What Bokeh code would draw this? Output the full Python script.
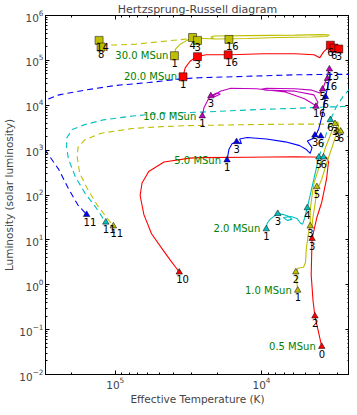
from bokeh.plotting import figure
from bokeh.models import Range1d, FixedTicker, LogAxis, CustomJSTickFormatter
from bokeh.core.properties import value
from bokeh.embed import file_html
from bokeh.resources import INLINE

# ---------------- data (T in K, L in solar luminosities) ----------------
masses = ["0.5 MSun", "1.0 MSun", "2.0 MSun", "5.0 MSun", "10.0 MSun", "20.0 MSun", "30.0 MSun"]
colors = ["#ff0000", "#bfbf00", "#00bfbf", "#0000ff", "#bf00bf", "#ff0000", "#bfbf00"]
marker_kind = ["triangle", "triangle", "triangle", "triangle", "triangle", "square", "square"]

m05_T = [3870, 4310, 4440, 4570, 4510, 4180, 3870, 3590, 3480, 3590, 5900, 12500, 26600, 30900,
         46400, 59000, 65600, 67600, 63700, 56500, 47100, 41800, 36500]
m05_L = [0.042, 0.20, 0.44, 1.66, 10.7, 31.5, 69, 225, 545, 696, 713, 696, 679, 662,
         545, 333, 185, 97.5, 36.5, 13.7, 5.93, 3.46, 1.92]
m05_dT, m05_dL = [], []
m05_mT = [3870, 4310, 4510, 36500]
m05_mL = [0.042, 0.20, 10.7, 1.9]
m05_mk = ["0", "2", "3", "10"]

m10_T = [5650, 5730, 5820, 5650, 5160, 5000, 4930, 4780, 4640, 4640, 4510, 4370, 3990, 3650,
         3380, 3190, 3000, 2960, 3140, 3330, 3650, 3870, 4180, 4310, 4440, 4510]
m10_L = [0.75, 1.17, 1.83, 2.33, 2.45, 3.13, 6.55, 13.7, 20.3, 46.7, 97.5, 185, 470, 1140,
         2150, 3700, 4290, 3040, 1860, 1030, 426, 225, 125, 59.7, 33.1, 20.3]
m10_dT = [3190, 3590, 5900, 12500, 30900, 46400, 76200, 125000, 162000, 180000, 182000,
          175000, 155000, 133000, 116000, 108000, 103000]
m10_dL = [3700, 3790, 3790, 3700, 3520, 3350, 3040, 2380, 1690, 1140, 696, 302, 138, 59.7,
          33.1, 24.7, 20.3]
m10_mT = [5650, 5820, 4640, 4180, 3140, 3050, 2870, 103000]
m10_mL = [0.75, 1.92, 20.3, 152, 3880, 2750, 2620, 20.3]
m10_mk = ["1", "2", "3", "5", "3", "3", "6", "11"]

m20_T = [9270, 9140, 8740, 8090, 7740, 7080, 6460, 6180, 6670, 7080, 6270, 5730, 5400, 5230,
         5080, 4930, 4860, 4570, 4310, 4050]
m20_L = [17.5, 23.5, 28.6, 34.8, 38.4, 36.6, 33.1, 28.6, 27.2, 31.5, 33.1, 30.0, 23.5, 22.4,
         30.0, 44.5, 51.5, 125, 288, 696]
m20_dT = [4050, 3760, 3380, 3090, 2780, 2470, 2320, 2580, 3590, 5900, 9710, 16200, 26600,
          46400, 76200, 120000, 162000, 197000, 215000, 215000, 209000, 188000, 162000,
          135000, 120000, 116000]
m20_dL = [696, 1450, 4730, 8960, 15400, 23900, 13300, 9400, 9180, 8530, 8120, 7540, 7000,
          6670, 5750, 4730, 3700, 2890, 1860, 1140, 631, 261, 113, 51.5, 28.6, 24.7]
m20_mT = [9270, 7740, 4860, 4050, 3760, 3380, 116000]
m20_mL = [17.5, 38.4, 51.5, 696, 696, 4730, 24.7]
m20_mk = ["1", "3", "4", "5", "6", "6", "11"]

m50_T = [17200, 16700, 15900, 14800, 13700, 14100, 12500, 9270, 6870, 5480, 4930, 4640, 4510,
         4860, 4510, 4240, 4050, 3820, 3650, 3480, 3380]
m50_L = [601, 1030, 1380, 1530, 1380, 1770, 1910, 1770, 1530, 1260, 1030, 847, 1140,
         1600, 1770, 2150, 3040, 6350, 15400, 30600, 48800]
m50_dT = [2390, 3380, 5900, 12500, 26600, 34400, 59000, 98500, 162000, 243000, 296000,
          354000, 387000, 365000, 300000, 243000, 209000, 180000, 157000]
m50_dL = [48800, 48800, 47600, 44200, 41000, 39100, 32100, 27700, 21700, 17000, 13300,
          8120, 3880, 1690, 982, 367, 138, 59.7, 36.6]
m50_mT = [17200, 14800, 4310, 3930, 3650, 157000]
m50_mL = [601, 1530, 2150, 2050, 15400, 36.6]
m50_mk = ["1", "3", "3", "6", "6", "11"]

m100_T = [25400, 24700, 23200, 22200, 20300, 19100, 20900, 21500, 19100, 16200, 10800, 6870,
          5080, 4370, 4240, 4110, 4370, 5900, 9270, 10000, 9270, 5900, 4510, 3990, 3820,
          3590, 3430]
m100_L = [5750, 8960, 13300, 16100, 18700, 17800, 15400, 16100, 20600, 23900, 23400, 19700,
          13900, 10400, 9400, 11500, 17000, 20600, 21700, 22800, 23900, 23400, 21700, 18700,
          22800, 39100, 67100]
m100_dT, m100_dL = [], []
m100_mT = [25400, 22200, 4240, 3820, 3540, 3430]
m100_mL = [5750, 16100, 9400, 22800, 39100, 63800]
m100_mk = ["1", "3", "16", "5", "16", "13"]

m200_T = [34400, 33300, 30900, 27800, 23900, 16200, 9710, 5900, 4370, 3990, 3760, 3480, 3330]
m200_L = [43100, 67100, 94600, 121000, 133000, 133000, 140000, 140000, 133000, 115000,
          155000, 198000, 218000]
m200_dT, m200_dL = [], []
m200_mT = [34400, 27400, 16900, 3380, 3190, 2960]
m200_mL = [43100, 121000, 133000, 218000, 188000, 179000]
m200_mk = ["1", "3", "16", "6", "6", "3"]

m300_T = [39400, 38700, 35900, 32400, 29600, 20600, 12500, 7620, 4570, 3590, 3430, 3760,
          5900, 12500, 21200, 22200, 21200]
m300_L = [127000, 179000, 229000, 279000, 315000, 300000, 308000, 323000, 331000, 340000,
          366000, 374000, 366000, 356000, 348000, 331000, 308000]
m300_dT = [125000, 98500, 72900, 43700, 29600, 21200]
m300_dL = [218000, 222000, 229000, 272000, 308000, 308000]
m300_mT = [39400, 29600, 27400, 16700, 129000, 125000]
m300_mL = [127000, 323000, 279000, 293000, 279000, 198000]
m300_mk = ["1", "4", "3", "16", "14", "8"]

x_major = [1e5, 1e4]
y_major = [1e-2, 1e-1, 1e0, 1e1, 1e2, 1e3, 1e4, 1e5, 1e6]

tracks = [
    (m05_T, m05_L, m05_dT, m05_dL, m05_mT, m05_mL, m05_mk),
    (m10_T, m10_L, m10_dT, m10_dL, m10_mT, m10_mL, m10_mk),
    (m20_T, m20_L, m20_dT, m20_dL, m20_mT, m20_mL, m20_mk),
    (m50_T, m50_L, m50_dT, m50_dL, m50_mT, m50_mL, m50_mk),
    (m100_T, m100_L, m100_dT, m100_dL, m100_mT, m100_mL, m100_mk),
    (m200_T, m200_L, m200_dT, m200_dL, m200_mT, m200_mL, m200_mk),
    (m300_T, m300_L, m300_dT, m300_dL, m300_mT, m300_mL, m300_mk),
]

# ---------------- figure ----------------
FONT = "DejaVu Sans"
p = figure(width=349, height=407, x_axis_type="log", y_axis_type="log",
           x_range=Range1d(3.0e5, 2.5e3), y_range=Range1d(1e-2, 1e6),
           output_backend="svg", toolbar_location=None,
           title="Hertzsprung-Russell diagram",
           min_border_left=31, min_border_right=0, min_border_top=0, min_border_bottom=0)
p.title.align = "center"
p.title.text_font = FONT
p.title.text_font_size = "11px"
p.title.text_font_style = "normal"
p.title.standoff = 0
p.title.offset = 0
p.grid.visible = False
p.outline_line_color = "black"
p.outline_line_width = 1
p.background_fill_color = "white"

x_minor = [k * 10 ** n for n in range(3, 6) for k in range(2, 10)]
y_minor = [k * 10.0 ** n for n in range(-2, 6) for k in range(2, 10)]


def style_axis(ax, labels=True):
    ax.axis_line_color = "black"
    ax.major_tick_in = 4
    ax.major_tick_out = 0
    ax.minor_tick_in = 2
    ax.minor_tick_out = 0
    ax.major_tick_line_color = "black"
    ax.minor_tick_line_color = "black"
    ax.major_label_text_font = FONT
    ax.axis_label_text_font = FONT
    ax.axis_label_text_font_style = "normal"
    ax.axis_label_text_font_size = "10.5px"
    if labels:
        ax.major_label_text_font_size = "10.5px"
        ax.major_label_standoff = 2
        ax.axis_label_standoff = 1
    else:
        ax.major_label_text_font_size = "1px"
        ax.major_label_standoff = 0
        ax.axis_label_standoff = 0
        ax.formatter = CustomJSTickFormatter(code="return ''")


p.xaxis.ticker = FixedTicker(ticks=x_major, minor_ticks=x_minor)
p.yaxis.ticker = FixedTicker(ticks=y_major, minor_ticks=y_minor)
p.xaxis.axis_label = "Effective Temperature (K)"
p.yaxis.axis_label = "Luminosity (solar luminosity)"
style_axis(p.xaxis[0])
style_axis(p.yaxis[0])

ra = LogAxis(ticker=FixedTicker(ticks=y_major, minor_ticks=y_minor))
ta = LogAxis(ticker=FixedTicker(ticks=x_major, minor_ticks=x_minor))
style_axis(ra, labels=False)
style_axis(ta, labels=False)
p.add_layout(ra, "right")
p.add_layout(ta, "above")

# tracks
for (T, L, dT, dL, mT, mL, mk), col in zip(tracks, colors):
    if dT:
        p.line(dT, dL, line_color=col, line_width=1.1, line_dash="6 4")
    p.line(T, L, line_color=col, line_width=1.1)

for (T, L, dT, dL, mT, mL, mk), col, kind in zip(tracks, colors, marker_kind):
    p.scatter(mT, mL, marker=kind, size=6.5 if kind == "triangle" else 8,
              fill_color=col, line_color="black", line_width=0.5)
    p.text(mT, mL, text=mk, x_offset=-3, y_offset=3, text_align="left",
           text_baseline="top", text_font=value(FONT), text_font_size="10px",
           text_color="black")

# mass labels at ZAMS
p.text([t[0][0] for t in tracks], [t[1][0] for t in tracks], text=masses,
       x_offset=-6, y_offset=0, text_align="right", text_baseline="middle",
       text_font=value(FONT), text_font_size="10px", text_color="#008000")

open("out.html", "w").write(file_html(p, INLINE))
